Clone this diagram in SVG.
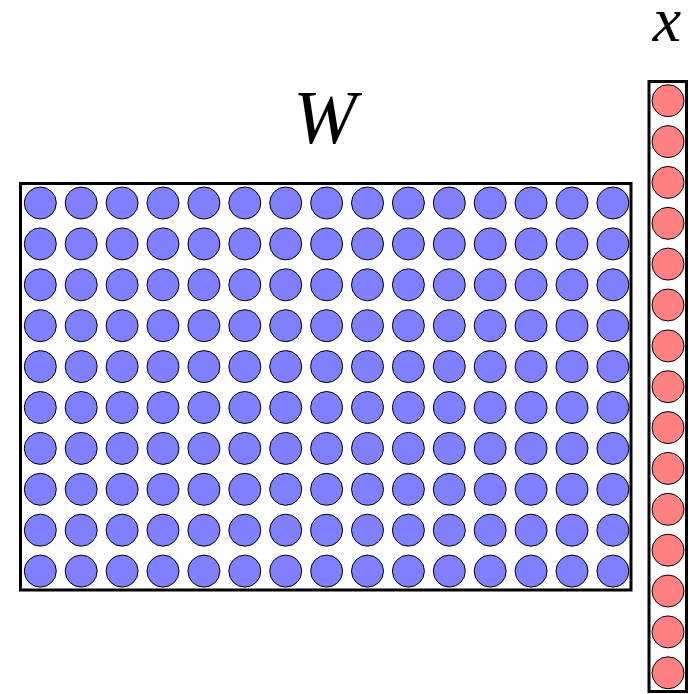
<svg xmlns="http://www.w3.org/2000/svg" xmlns:xlink="http://www.w3.org/1999/xlink" width="689" height="694" viewBox="0 0 689 694">
<style>
.frame{fill:none;stroke:#000;stroke-width:3}
.b{fill:#8080ff;stroke:#000;stroke-width:1}
.r{fill:#ff8080;stroke:#000;stroke-width:1}
.lbl{font-family:"Liberation Serif","DejaVu Serif",serif;font-style:italic;fill:#000;text-anchor:middle}
</style>
<defs>
<circle id="bc" class="b" r="16"/>
<circle id="rc" class="r" r="16"/>
<g id="brow">
<use xlink:href="#bc" x="40.3"/><use xlink:href="#bc" x="81.2"/><use xlink:href="#bc" x="122.1"/><use xlink:href="#bc" x="163"/><use xlink:href="#bc" x="203.9"/><use xlink:href="#bc" x="244.8"/><use xlink:href="#bc" x="285.7"/><use xlink:href="#bc" x="326.6"/><use xlink:href="#bc" x="367.5"/><use xlink:href="#bc" x="408.4"/><use xlink:href="#bc" x="449.3"/><use xlink:href="#bc" x="490.2"/><use xlink:href="#bc" x="531.1"/><use xlink:href="#bc" x="572"/><use xlink:href="#bc" x="612.9"/>
</g>
</defs>
<g id="W">
<rect class="frame" x="20.5" y="183.5" width="610.5" height="406.5"/>
<use xlink:href="#brow" y="203"/><use xlink:href="#brow" y="243.9"/><use xlink:href="#brow" y="284.8"/><use xlink:href="#brow" y="325.7"/><use xlink:href="#brow" y="366.6"/><use xlink:href="#brow" y="407.5"/><use xlink:href="#brow" y="448.4"/><use xlink:href="#brow" y="489.3"/><use xlink:href="#brow" y="530.2"/><use xlink:href="#brow" y="571.1"/>
<text class="lbl" x="325" y="143" font-size="76">W</text>
</g>
<g id="x">
<rect class="frame" x="649" y="81.5" width="37.5" height="610"/>
<use xlink:href="#rc" x="668" y="100.7"/><use xlink:href="#rc" x="668" y="141.6"/><use xlink:href="#rc" x="668" y="182.4"/><use xlink:href="#rc" x="668" y="223.3"/><use xlink:href="#rc" x="668" y="264.1"/><use xlink:href="#rc" x="668" y="305"/><use xlink:href="#rc" x="668" y="345.9"/><use xlink:href="#rc" x="668" y="386.7"/><use xlink:href="#rc" x="668" y="427.6"/><use xlink:href="#rc" x="668" y="468.4"/><use xlink:href="#rc" x="668" y="509.3"/><use xlink:href="#rc" x="668" y="550.2"/><use xlink:href="#rc" x="668" y="591"/><use xlink:href="#rc" x="668" y="631.9"/><use xlink:href="#rc" x="668" y="672.8"/>
<text class="lbl" x="667" y="41" font-size="64">x</text>
</g>
</svg>
